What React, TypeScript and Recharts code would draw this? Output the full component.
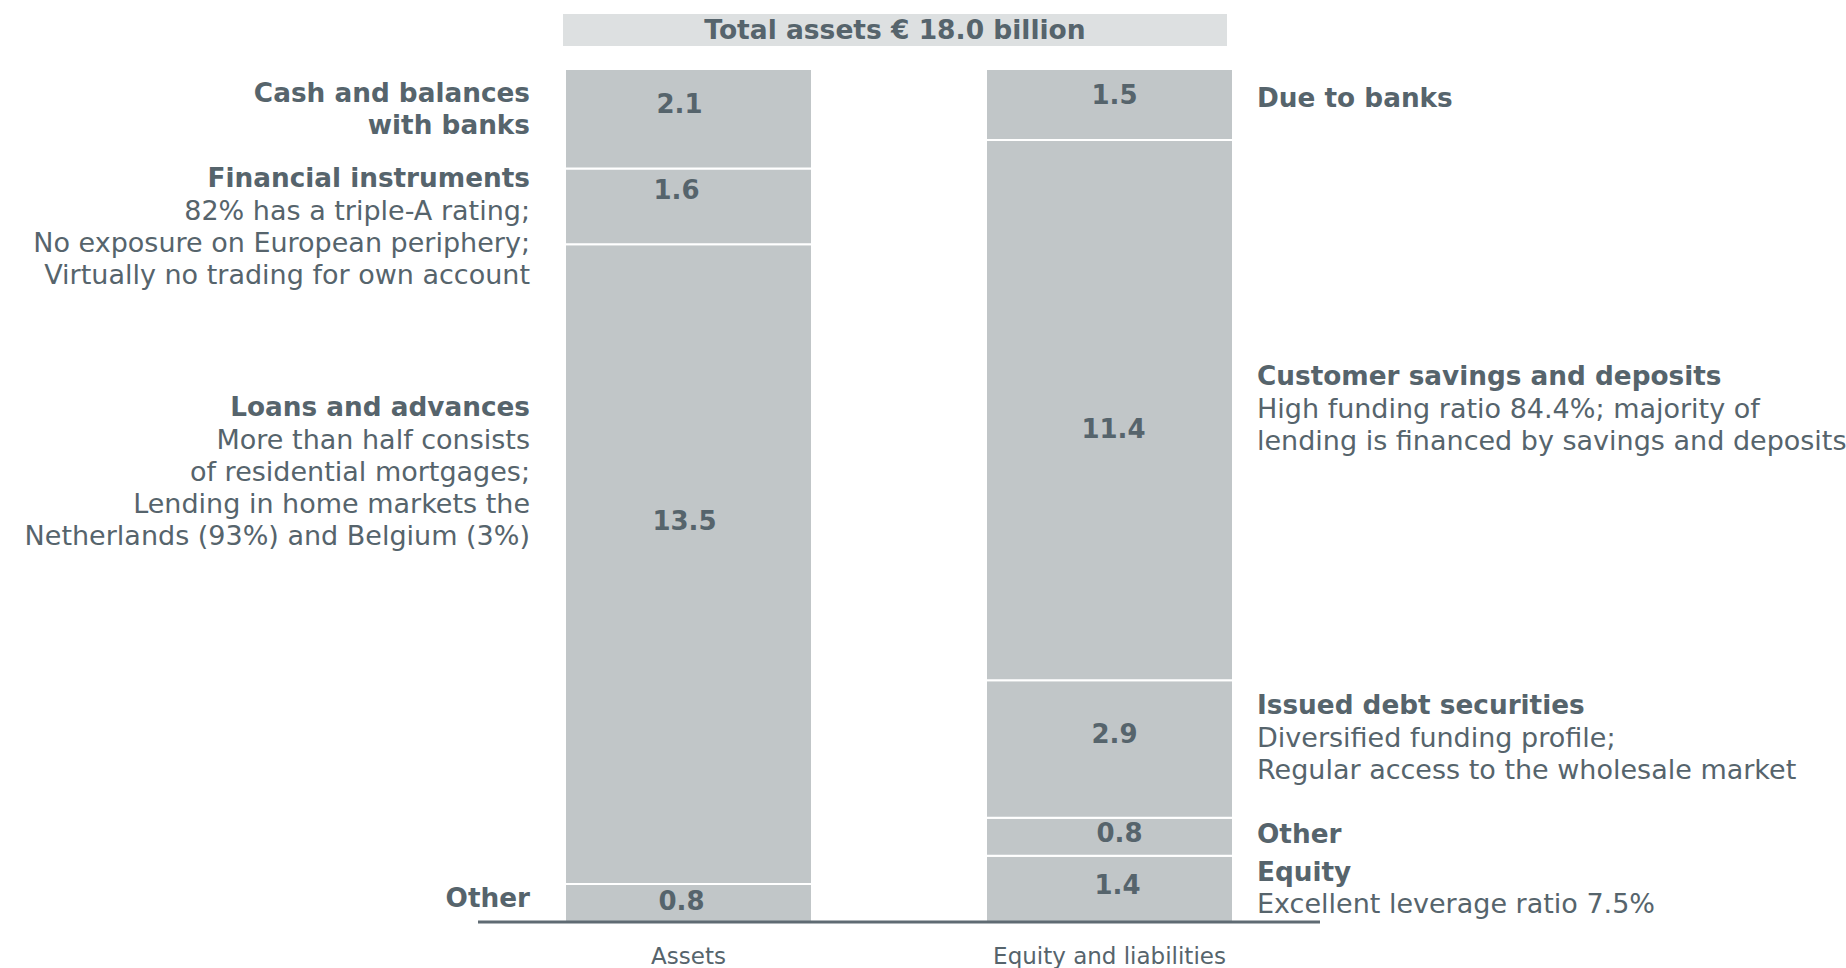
import { Bar, BarChart, LabelList, XAxis, YAxis } from "recharts";

const categories = ["Assets", "Equity and liabilities"];
const title = "Total assets € 18.0 billion";

// stacks run bottom to top
const assetKeys = ["aOther", "aLoans", "aFin", "aCash"];
const assetValues = [0.8, 13.5, 1.6, 2.1];
const assetHeads = [["Other"], ["Loans and advances"], ["Financial instruments"], ["Cash and balances", "with banks"]];
const assetNotes = [
  [],
  ["More than half consists", "of residential mortgages;", "Lending in home markets the", "Netherlands (93%) and Belgium (3%)"],
  ["82% has a triple-A rating;", "No exposure on European periphery;", "Virtually no trading for own account"],
  [],
];

const liabKeys = ["lEquity", "lOther", "lDebt", "lSavings", "lDue"];
const liabValues = [1.4, 0.8, 2.9, 11.4, 1.5];
const liabHeads = [["Equity"], ["Other"], ["Issued debt securities"], ["Customer savings and deposits"], ["Due to banks"]];
const liabNotes = [
  ["Excellent leverage ratio 7.5%"],
  [],
  ["Diversified funding profile;", "Regular access to the wholesale market"],
  ["High funding ratio 84.4%; majority of", "lending is financed by savings and deposits"],
  [],
];

const rows = categories.map((name, i) => {
  const row: Record<string, any> = { name };
  assetKeys.forEach((k, j) => (row[k] = i === 0 ? assetValues[j] : 0));
  liabKeys.forEach((k, j) => (row[k] = i === 1 ? liabValues[j] : 0));
  return row;
});

// fine placement of the text inside/next to each segment
const valueShift: Record<string, [number, number]> = {
  aOther: [-7, -2], aLoans: [-4, -43], aFin: [-12, -16], aCash: [-9, -15],
  lEquity: [8, -4], lOther: [10, -4], lDebt: [5, -15], lSavings: [4, 19], lDue: [5, -10],
};
const noteShift: Record<string, number> = {
  aOther: -5, aLoans: -93, aFin: 20, aCash: -10,
  lEquity: -1, lOther: -3, lDebt: -12, lSavings: -2, lDue: -7,
};

const FONT = "'DejaVu Sans', Verdana, sans-serif";
const INK = "#56646c";
const BAR = "#c1c6c8";
const LINE_H = 32;

function box(props: any) {
  const vb = props.viewBox ?? props;
  return { x: Number(vb.x), y: Number(vb.y), width: Number(vb.width), height: Number(vb.height) };
}

const valueLabel = (key: string) => (props: any) => {
  const { value } = props;
  if (!value) return null;
  const { x, y, width, height } = box(props);
  const [dx, dy] = valueShift[key];
  return (
    <text x={x + width / 2 + dx} y={y + height / 2 + dy} textAnchor="middle" dominantBaseline="central"
      fontFamily={FONT} fontSize={26} fontWeight="bold" fill={INK}>
      {Number(value).toFixed(1)}
    </text>
  );
};

const noteLabel = (key: string, side: "left" | "right", heads: string[], notes: string[]) => (props: any) => {
  const { value } = props;
  if (!value) return null;
  const { x, y, width, height } = box(props);
  const lines = [...heads.map((t) => ({ t, b: true })), ...notes.map((t) => ({ t, b: false }))];
  const first = y + height / 2 + noteShift[key] - ((lines.length - 1) * LINE_H) / 2;
  const tx = side === "left" ? x - 35 : x + width + 24;
  return (
    <g>
      {lines.map((l, i) => (
        <text key={i} x={tx} y={first + i * LINE_H} textAnchor={side === "left" ? "end" : "start"}
          dominantBaseline="central" fontFamily={FONT} fontSize={l.b ? 26.3 : 27} fontWeight={l.b ? "bold" : "normal"} fill={INK}>
          {l.t}
        </text>
      ))}
    </g>
  );
};

const CategoryTick = (props: any) => {
  const { x, y, payload } = props;
  return (
    <text x={x} y={y + 34} textAnchor="middle" dominantBaseline="central" fontFamily={FONT} fontSize={23} fill={INK}>
      {payload.value}
    </text>
  );
};

export default function App() {
  return (
    <div style={{ position: "absolute", left: 0, top: 0, width: 1846, height: 968, background: "#fff" }}>
      <div
        style={{
          position: "absolute", left: 563, top: 14, width: 664, height: 32, lineHeight: "32px",
          background: "#dde0e1", color: INK, fontFamily: FONT, fontWeight: "bold", fontSize: 26.5, textAlign: "center",
        }}
      >
        {title}
      </div>
      <BarChart width={1846} height={968} data={rows} barSize={247}
        margin={{ top: 69, right: 526, bottom: 6, left: 478 }}>
        <XAxis dataKey="name" height={40} tickLine={false} tickSize={0} tickMargin={0}
          axisLine={{ stroke: "#5f6b73", strokeWidth: 3 }} tick={<CategoryTick />} />
        <YAxis hide domain={[0, 18]} />
        {assetKeys.map((k, j) => (
          <Bar key={k} dataKey={k} stackId="s" fill={BAR} stroke="#fff" strokeWidth={2} isAnimationActive={false}>
            <LabelList dataKey={k} content={valueLabel(k)} />
            <LabelList dataKey={k} content={noteLabel(k, "left", assetHeads[j], assetNotes[j])} />
          </Bar>
        ))}
        {liabKeys.map((k, j) => (
          <Bar key={k} dataKey={k} stackId="s" fill={BAR} stroke="#fff" strokeWidth={2} isAnimationActive={false}>
            <LabelList dataKey={k} content={valueLabel(k)} />
            <LabelList dataKey={k} content={noteLabel(k, "right", liabHeads[j], liabNotes[j])} />
          </Bar>
        ))}
      </BarChart>
    </div>
  );
}
